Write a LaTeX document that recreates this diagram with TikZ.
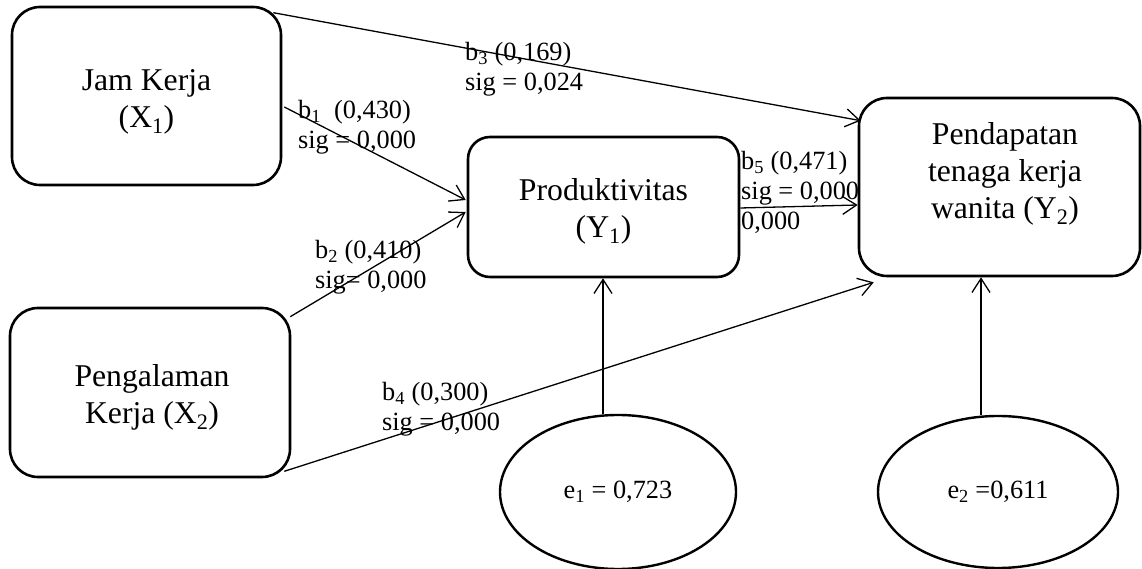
\documentclass[tikz,border=0pt]{standalone}
\usepackage{fontspec}
\setmainfont{Liberation Serif}
\usetikzlibrary{arrows.meta,shapes.geometric}

\begin{document}
\begin{tikzpicture}[x=1pt,y=1pt,
  box/.style={draw, line width=2.6pt, rounded corners=28pt, inner sep=0pt},
  boxtext/.style={align=center, font=\fontsize{31.7}{37}\selectfont, inner sep=0pt},
  coef/.style={align=left, font=\fontsize{26.3}{30}\selectfont, inner sep=0pt, anchor=north west},
  err/.style={draw, ellipse, line width=2.4pt, inner sep=0pt, font=\fontsize{26.3}{30}\selectfont},
  link/.style={line width=1.3pt, -{Straight Barb[length=14pt,width=18pt]}},
]
\useasboundingbox (0,0) rectangle (1142,569);

% variables
\node[box, minimum width=269pt, minimum height=178pt] (X1) at (146.5,473) {};
\node[box, minimum width=280pt, minimum height=169pt] (X2) at (150,176.5) {};
\node[box, rounded corners=22pt, minimum width=271pt, minimum height=140pt] (Y1) at (603.5,362) {};
\node[box, minimum width=281pt, minimum height=178pt] (Y2) at (999.5,382) {};

\node[boxtext] (X1t) at (146.5,467.5) {Jam Kerja\\(X\textsubscript{1})};
\node[boxtext] (X2t) at (152,172) {Pengalaman\\Kerja (X\textsubscript{2})};
\node[boxtext] (Y1t) at (603.5,358) {Produktivitas\\(Y\textsubscript{1})};
\node[boxtext] (Y2t) at (1005,395) {Pendapatan\\tenaga kerja\\wanita (Y\textsubscript{2})};

% error terms
\node[err, minimum width=236pt, minimum height=154pt] (e1) at (618,77) {e\textsubscript{1} = 0,723};
\node[err, minimum width=240pt, minimum height=152pt] (e2) at (998,77) {e\textsubscript{2} =0,611};

% path coefficients
\node[coef] (L3) at (465,527) {b\textsubscript{3} (0,169)\\sig = 0,024};
\node[coef] (L1) at (298,469) {b\textsubscript{1}\ \ (0,430)\\sig = 0,000};
\node[coef] (L2) at (315,329) {b\textsubscript{2} (0,410)\\sig= 0,000};
\node[coef] (L4) at (382,187) {b\textsubscript{4} (0,300)\\sig = 0,000};
\node[coef] (L5) at (741,418) {b\textsubscript{5} (0,471)\\sig = 0,000\\0,000};

% paths
\draw[link] ([xshift=-9pt,yshift=-7pt]X1.north east) -- ([xshift=3pt,yshift=-24pt]Y2.north west);
\draw[link] ([xshift=2pt,yshift=-11pt]X1.east) -- ([xshift=-1pt,yshift=7pt]Y1.west);
\draw[link] ([xshift=-1pt,yshift=-10pt]X2.north east) -- ([xshift=-1pt,yshift=-5pt]Y1.west);
\draw[link] ([xshift=-7pt,yshift=7pt]X2.south east) -- ([xshift=16pt,yshift=-5pt]Y2.south west);
\draw[link] ([yshift=-1pt]Y1.east) -- ([yshift=-18pt]Y2.west);
\draw[link] ([xshift=-15pt]e1.north) -- ([xshift=-0.5pt]Y1.south);
\draw[link] ([xshift=-17pt]e2.north) -- ([xshift=-18.5pt]Y2.south);
\end{tikzpicture}
\end{document}
